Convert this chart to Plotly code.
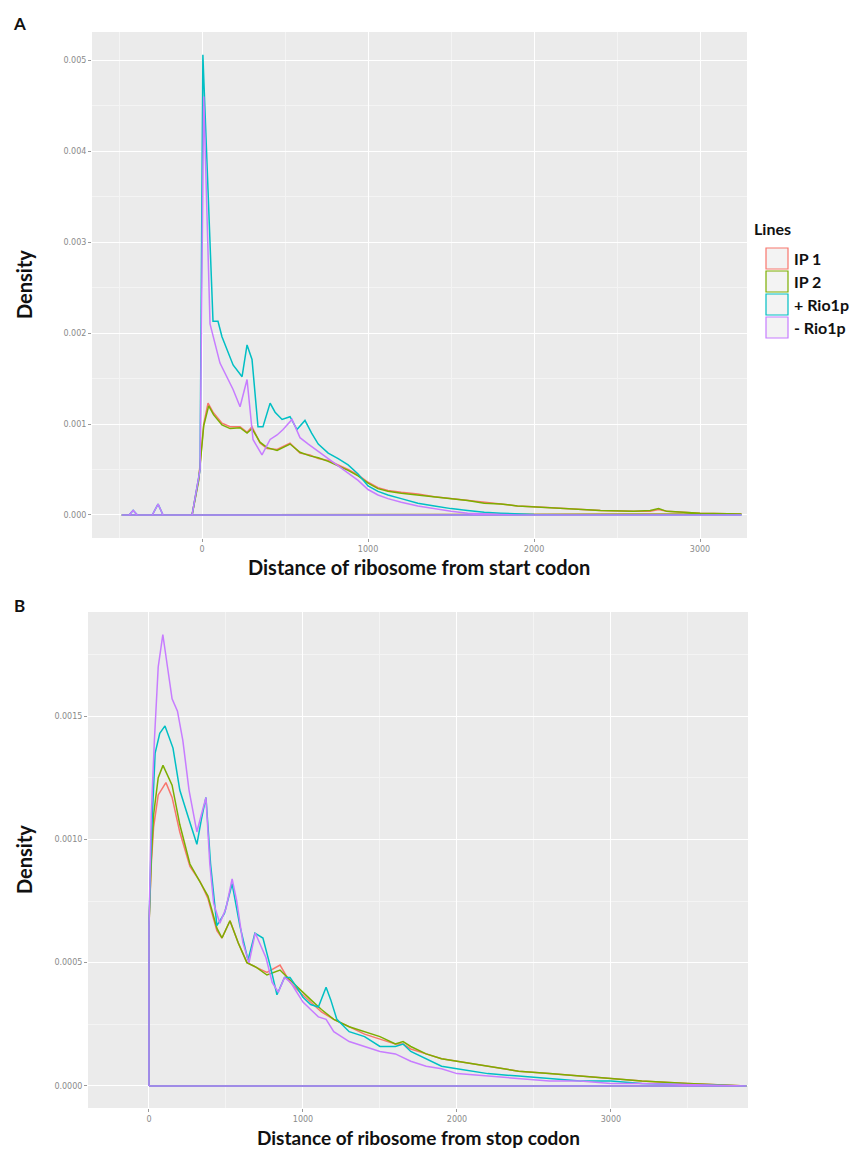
import plotly.graph_objects as go

W, H = 860, 1151

series_names = ["IP 1", "IP 2", "+ Rio1p", "- Rio1p"]
series_colors = ["#F8766D", "#7CAE00", "#00BFC4", "#C77CFF"]

# ---- Panel A: distance from start codon ----
a_ip1_x = [-484, -60, -20, 10, 36, 66, 120, 169, 229, 271, 301, 349, 392, 452, 530, 590, 650, 700, 760,
           820, 880, 940, 1000, 1060, 1120, 1200, 1300, 1400, 1500, 1600, 1700, 1800, 1900, 2000, 2100,
           2200, 2400, 2600, 2700, 2750, 2800, 3000, 3250]
a_ip1_y = [0, 0, 0.0004, 0.001, 0.00123, 0.00113, 0.00101, 0.00097, 0.00097, 0.00091, 0.00097, 0.00079,
           0.00073, 0.00072, 0.00079, 0.00068, 0.00066, 0.00062, 0.00060, 0.00055, 0.0005, 0.00044, 0.00036,
           0.0003, 0.00027, 0.00025, 0.00023, 0.0002, 0.00018, 0.00016, 0.00014, 0.00012, 0.0001, 0.00009,
           0.00008, 0.00007, 0.00005, 0.00004, 0.00004, 0.00006, 0.00004, 0.00002, 0.00001]

a_ip2_x = [-484, -60, -20, 10, 40, 70, 120, 169, 229, 271, 301, 349, 392, 452, 530, 590, 650, 700, 760,
           820, 880, 940, 1000, 1060, 1120, 1200, 1300, 1400, 1500, 1600, 1700, 1800, 1900, 2000, 2100,
           2200, 2400, 2600, 2700, 2750, 2800, 3000, 3250]
a_ip2_y = [0, 0, 0.00038, 0.00098, 0.0012, 0.0011, 0.00099, 0.00095, 0.00096, 0.0009, 0.00095, 0.0008,
           0.00074, 0.00071, 0.00078, 0.00069, 0.00065, 0.00063, 0.00059, 0.00054, 0.00049, 0.00043, 0.00035,
           0.00029, 0.00026, 0.00024, 0.00022, 0.0002, 0.00018, 0.00016, 0.00013, 0.00012, 0.0001, 0.00009,
           0.00008, 0.00007, 0.00005, 0.00004, 0.00005, 0.00007, 0.00004, 0.00002, 0.00001]

a_plus_x = [-484, -440, -415, -390, -300, -265, -235, -60, -12, 5, 66, 96, 120, 187, 241, 271, 301, 337,
            367, 410, 440, 482, 530, 572, 620, 660, 700, 760, 820, 880, 940, 1000, 1060, 1120, 1200, 1300,
            1400, 1500, 1600, 1700, 1800, 1900, 2000, 2200, 2500, 3250]
a_plus_y = [0, 0, 0.00005, 0, 0, 0.00012, 0, 0, 0.0005, 0.00506, 0.00213, 0.00213, 0.00196, 0.00165,
            0.00152, 0.00187, 0.00171, 0.00097, 0.00097, 0.00123, 0.00113, 0.00105, 0.00108, 0.00094,
            0.00104, 0.0009, 0.00078, 0.00068, 0.00062, 0.00055, 0.00045, 0.00032, 0.00026, 0.00022,
            0.00018, 0.00013, 0.0001, 0.00007, 0.00005, 0.00003, 0.00002, 0.00001, 0.000005, 0, 0, 0]

a_minus_x = [-484, -440, -415, -390, -300, -265, -235, -60, -12, 10, 48, 108, 187, 229, 271, 307, 361,
             410, 452, 488, 542, 590, 640, 700, 760, 820, 880, 940, 1000, 1060, 1120, 1200, 1300, 1400,
             1500, 1600, 1700, 1800, 1900, 2000, 3250]
a_minus_y = [0, 0, 0.00005, 0, 0, 0.00012, 0, 0, 0.0005, 0.0046, 0.0021, 0.00167, 0.00138, 0.00119,
             0.00149, 0.00083, 0.00066, 0.00083, 0.00088, 0.00094, 0.00105, 0.00085, 0.00078, 0.0007,
             0.00062, 0.00055, 0.00047, 0.00038, 0.00028, 0.00022, 0.00018, 0.00014, 0.0001, 0.00007,
             0.00004, 0.00002, 0.00001, 0.000005, 0, 0, 0]

# ---- Panel B: distance from stop codon ----
b_ip1_x = [0, 0, 15, 30, 60, 110, 150, 200, 266, 331, 383, 441, 474, 526, 580, 636, 700, 766, 851, 916,
           980, 1050, 1120, 1200, 1300, 1400, 1500, 1600, 1650, 1700, 1800, 1900, 2000, 2100, 2200, 2400,
           2600, 2800, 3000, 3200, 3500, 3880]
b_ip1_y = [0, 0.00065, 0.0009, 0.00105, 0.00118, 0.00123, 0.00117, 0.00103, 0.00089, 0.00083, 0.00076,
           0.00063, 0.0006, 0.00067, 0.00058, 0.0005, 0.00048, 0.00046, 0.00049, 0.00042, 0.00038, 0.00034,
           0.0003, 0.00027, 0.00024, 0.00021, 0.00019, 0.00017, 0.00017, 0.00015, 0.00013, 0.00011, 0.0001,
           0.00009, 0.00008, 0.00006, 0.00005, 0.00004, 0.00003, 0.00002, 0.00001, 0]

b_ip2_x = [0, 0, 15, 30, 60, 91, 150, 200, 266, 331, 383, 441, 474, 526, 580, 636, 700, 766, 851, 916,
           980, 1050, 1120, 1200, 1300, 1400, 1500, 1600, 1650, 1700, 1800, 1900, 2000, 2100, 2200, 2400,
           2600, 2800, 3000, 3200, 3500, 3880]
b_ip2_y = [0, 0.00065, 0.00092, 0.0011, 0.00125, 0.0013, 0.00122, 0.00106, 0.0009, 0.00083, 0.00077,
           0.00064, 0.0006, 0.00067, 0.00058, 0.0005, 0.00048, 0.00045, 0.00047, 0.00043, 0.00039, 0.00035,
           0.00031, 0.00027, 0.00024, 0.00022, 0.0002, 0.00017, 0.00018, 0.00016, 0.00013, 0.00011, 0.0001,
           0.00009, 0.00008, 0.00006, 0.00005, 0.00004, 0.00003, 0.00002, 0.00001, 0]

b_plus_x = [0, 0, 15, 40, 70, 104, 156, 200, 250, 311, 340, 370, 400, 441, 490, 540, 590, 643, 688, 740,
            790, 831, 880, 916, 960, 1000, 1050, 1100, 1150, 1180, 1220, 1300, 1400, 1500, 1600, 1650, 1700,
            1800, 1900, 2000, 2200, 2400, 2600, 2800, 3000, 3200, 3500, 3880]
b_plus_y = [0, 0.00065, 0.001, 0.00135, 0.00143, 0.00146, 0.00137, 0.0012, 0.0011, 0.00098, 0.00108,
            0.00117, 0.0009, 0.00065, 0.0007, 0.00082, 0.00065, 0.00051, 0.00062, 0.0006, 0.00048, 0.00037,
            0.00044, 0.00044, 0.0004, 0.00036, 0.00033, 0.00032, 0.0004, 0.00035, 0.00027, 0.00022, 0.0002,
            0.00016, 0.00016, 0.00017, 0.00014, 0.00011, 0.00008, 0.00007, 0.00005, 0.00004, 0.00003,
            0.00002, 0.00002, 0.00001, 0.000005, 0]

b_minus_x = [0, 0, 15, 35, 60, 90, 120, 150, 185, 220, 260, 311, 340, 370, 395, 420, 460, 500, 540, 570,
             610, 650, 690, 720, 760, 800, 840, 880, 920, 960, 1000, 1050, 1100, 1150, 1200, 1300, 1400,
             1500, 1600, 1700, 1800, 1900, 2000, 2200, 2400, 2600, 2800, 3000, 3200, 3500, 3880]
b_minus_y = [0, 0.00065, 0.0011, 0.0014, 0.0017, 0.00183, 0.0017, 0.00157, 0.00152, 0.0014, 0.0012,
             0.00103, 0.0011, 0.00117, 0.0009, 0.00074, 0.00066, 0.00072, 0.00084, 0.00075, 0.00058, 0.0005,
             0.00062, 0.00058, 0.00052, 0.00042, 0.00038, 0.00044, 0.00042, 0.00038, 0.00034, 0.00031,
             0.00028, 0.00027, 0.00022, 0.00018, 0.00016, 0.00014, 0.00013, 0.0001, 0.00008, 0.00007,
             0.00005, 0.00004, 0.00003, 0.00002, 0.00002, 0.00001, 0.00001, 0.000005, 0]

x_ticks = [0, 1000, 2000, 3000]
a_y_ticks = [0, 0.001, 0.002, 0.003, 0.004, 0.005]
b_y_ticks = [0, 0.0005, 0.001, 0.0015]

panel_a = [(a_ip1_x, a_ip1_y), (a_ip2_x, a_ip2_y), (a_plus_x, a_plus_y), (a_minus_x, a_minus_y)]
panel_b = [(b_ip1_x, b_ip1_y), (b_ip2_x, b_ip2_y), (b_plus_x, b_plus_y), (b_minus_x, b_minus_y)]


def px(x):
    return x / W


def py(y):
    return 1 - y / H


fig = go.Figure()

# density outlines: each curve is closed back along the baseline, as geom_density draws it
for (xs, ys), name, col in zip(panel_a, series_names, series_colors):
    fig.add_trace(go.Scatter(x=xs + [xs[0]], y=ys + [0], mode="lines", name=name,
                             line=dict(color=col, width=1.5), xaxis="x", yaxis="y",
                             showlegend=False))
for (xs, ys), name, col in zip(panel_b, series_names, series_colors):
    fig.add_trace(go.Scatter(x=xs + [xs[0]], y=ys + [0], mode="lines", name=name,
                             line=dict(color=col, width=1.5), xaxis="x2", yaxis="y2",
                             showlegend=False))

tick_font = dict(family="DejaVu Sans", size=8, color="#8a8a8a")
common = dict(showline=False, zeroline=False, gridcolor="white", gridwidth=1.1,
              ticks="outside", ticklen=3, tickcolor="#9a9a9a", tickwidth=1, tickfont=tick_font)

fig.update_layout(
    width=W, height=H,
    margin=dict(l=0, r=0, t=0, b=0),
    paper_bgcolor="white", plot_bgcolor="#EBEBEB",
    showlegend=False,
    xaxis=dict(domain=[px(92), px(747)], anchor="y", range=[-663, 3283], tickvals=x_ticks,
               tickformat="d", minor=dict(dtick=500, tick0=0, showgrid=True, gridcolor="#F4F4F4",
                                          gridwidth=0.6), **common),
    yaxis=dict(domain=[py(538), py(32)], anchor="x", range=[-0.000253, 0.00531], tickvals=a_y_ticks,
               tickformat=".3f", minor=dict(dtick=0.0005, tick0=0, showgrid=True, gridcolor="#F4F4F4",
                                            gridwidth=0.6), **common),
    xaxis2=dict(domain=[px(88), px(748)], anchor="y2", range=[-396, 3890], tickvals=x_ticks,
                tickformat="d", minor=dict(dtick=500, tick0=0, showgrid=True, gridcolor="#F4F4F4",
                                           gridwidth=0.6), **common),
    yaxis2=dict(domain=[py(1108), py(612)], anchor="x2", range=[-0.0000894, 0.001922],
                tickvals=b_y_ticks, tickformat=".4f",
                minor=dict(dtick=0.00025, tick0=0, showgrid=True, gridcolor="#F4F4F4", gridwidth=0.6),
                **common),
)

title_font = dict(family="Lato", size=20, color="#111111")
ann = []
ann.append(dict(text="<b>A</b>", x=px(19), y=py(23), font=dict(family="Lato", size=17, color="#111")))
ann.append(dict(text="<b>B</b>", x=px(19), y=py(605), font=dict(family="Lato", size=17, color="#111")))
ann.append(dict(text="<b>Density</b>", x=px(24), y=py(285), textangle=-90, font=title_font))
ann.append(dict(text="<b>Density</b>", x=px(24), y=py(860), textangle=-90, font=title_font))
ann.append(dict(text="<b>Distance of ribosome from start codon</b>", x=px(419), y=py(567), font=title_font))
ann.append(dict(text="<b>Distance of ribosome from stop codon</b>", x=px(418), y=py(1137),
                font=dict(family="Lato", size=19, color="#111111")))

# legend drawn as outlined key boxes
legend_font = dict(family="Lato", size=16, color="#111111")
ann.append(dict(text="<b>Lines</b>", x=px(752), y=py(228), xanchor="left", font=legend_font))
shapes = []
row_top = 247
row_h = 23
for i, (name, col) in enumerate(zip(series_names, series_colors)):
    y0 = row_top + i * row_h
    shapes.append(dict(type="rect", xref="paper", yref="paper", x0=px(766), x1=px(788),
                       y0=py(y0 + row_h - 1), y1=py(y0 + 1), line=dict(color=col, width=1.2),
                       fillcolor="#F3F3F3"))
    ann.append(dict(text="<b>%s</b>" % name, x=px(792), y=py(y0 + row_h / 2), xanchor="left",
                    font=legend_font))

for a in ann:
    a.setdefault("xref", "paper")
    a.setdefault("yref", "paper")
    a.setdefault("showarrow", False)
    a.setdefault("xanchor", "center")
    a.setdefault("yanchor", "middle")
fig.update_layout(annotations=ann, shapes=shapes)

fig.write_html("out.html")
